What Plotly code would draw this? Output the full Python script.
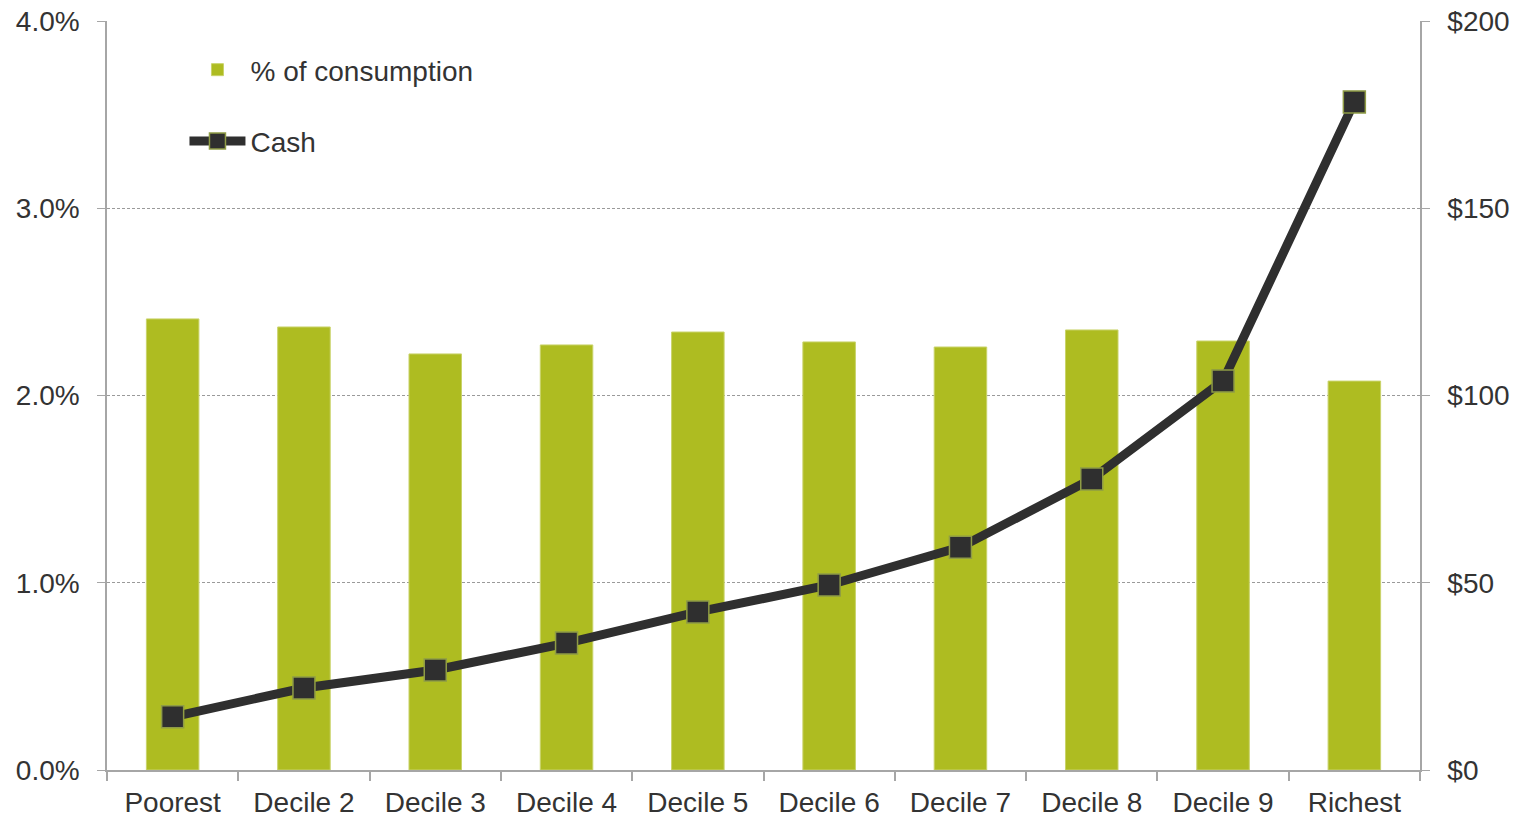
import plotly.graph_objects as go

categories = ["Poorest", "Decile 2", "Decile 3", "Decile 4", "Decile 5",
              "Decile 6", "Decile 7", "Decile 8", "Decile 9", "Richest"]
pct_consumption = [0.02409, 0.02366, 0.02222, 0.02270, 0.02339,
                   0.02286, 0.02259, 0.02350, 0.02291, 0.02077]
cash = [14.2, 21.9, 26.7, 33.9, 42.2, 49.4, 59.5, 77.7, 103.9, 178.4]

font_color = "#333333"
axis_color = "#a6a6a6"
FS = 28

fig = go.Figure()
fig.add_trace(go.Bar(
    x=categories, y=pct_consumption, name="% of consumption",
    marker=dict(color="#aebc21", line=dict(color="#c9d36a", width=1)),
    width=0.4, legendgroup="a", yaxis="y",
))
fig.add_trace(go.Scatter(
    x=categories, y=cash, name="Cash", mode="lines+markers",
    line=dict(color="#2f2f2f", width=9),
    marker=dict(symbol="square", size=22, color="#2f2f2f",
                line=dict(color="#8f9c45", width=1.5)),
    legendgroup="b", yaxis="y2",
))

fig.update_layout(
    width=1522, height=819,
    margin=dict(l=107, r=102, t=21, b=49, autoexpand=False),
    paper_bgcolor="white", plot_bgcolor="white",
    font=dict(family="Liberation Sans, Arial, sans-serif", size=FS, color=font_color),
    showlegend=True,
    legend=dict(x=0.059, y=0.968, xanchor="left", yanchor="top",
                bgcolor="rgba(0,0,0,0)", font=dict(size=FS, color=font_color),
                tracegroupgap=32, itemwidth=56),
    xaxis=dict(
        range=[-0.5, 9.5], showline=True, linecolor=axis_color, linewidth=1.5,
        ticks="outside", tickson="boundaries", ticklen=9, tickcolor=axis_color,
        tickwidth=1.5, showgrid=False, tickfont=dict(size=FS, color=font_color),
        automargin=False, ticklabelstandoff=7,
    ),
    yaxis=dict(
        range=[0, 0.04], dtick=0.01, tickformat=".1%",
        showline=True, linecolor=axis_color, linewidth=1.5,
        ticks="outside", ticklen=8, tickcolor=axis_color,
        showgrid=True, gridcolor="#9a9a9a", gridwidth=1, griddash="3px,2px",
        zeroline=False, tickfont=dict(size=FS, color=font_color),
        automargin=False, ticklabelstandoff=12,
    ),
    yaxis2=dict(
        range=[0, 200], dtick=50, tickprefix="$", overlaying="y", side="right",
        showline=True, linecolor=axis_color, linewidth=1.5,
        ticks="outside", ticklen=8, tickcolor=axis_color,
        showgrid=False, zeroline=False, tickfont=dict(size=FS, color=font_color),
        automargin=False, ticklabelstandoff=12,
    ),
    bargap=0.6,
)

fig.write_html("out.html")
